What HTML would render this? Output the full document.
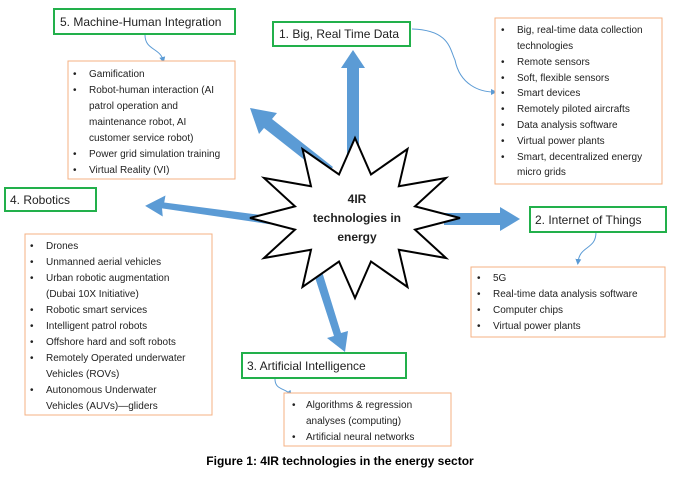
<!DOCTYPE html>
<html><head><meta charset="utf-8"><style>
body{margin:0;background:#fff;}
svg text{font-family:"Liberation Sans",sans-serif;}
</style></head><body>
<svg width="680" height="474" viewBox="0 0 680 474" xmlns="http://www.w3.org/2000/svg">
<defs><marker id="m" markerWidth="6" markerHeight="6" refX="3" refY="3" orient="auto"><path d="M0,0L6,3L0,6z" fill="#5b9bd5"/></marker></defs>
<g fill="none" stroke="#5b9bd5" stroke-width="1">
<path d="M145,35 C145,50 160,48 163,60" marker-end="url(#m)"/>
<path d="M412,29 C450,30 450,50 455,60 C460,85 480,92 494,92" marker-end="url(#m)"/>
<path d="M596,232 C596,250 580,245 578,262" marker-end="url(#m)"/>
<path d="M275,379 C275,390 285,388 290,394" marker-end="url(#m)"/>
</g>
<g fill="#5b9bd5">
<polygon points="347,200 347,68 341,68 353,50 365,68 359,68 359,200"/>
<polygon points="325,176 264,128 259,134 250,108 277,113 272,119 333,167"/>
<polygon points="270,222 162,210 163,218 145,208 165,197 164,204 271,214" transform="rotate(2 207 210)"/>
<polygon points="444,213 500,213 500,207 520,219 500,231 500,225 444,225"/>
<polygon points="312,268 334,336 327,338 345,352 348,331 341,333 320,265"/>
</g>
<polygon fill="#fff" stroke="#000" stroke-width="2" points="460,218 415,229.6 446,258 398.8,249.8 407.5,287 371,261.5 355,298 339,261.5 302.5,287 311,249.8 264,258 295,229.6 250,218 295,206.4 264,178 311,186.2 302.5,149 339,174.5 355,138 371,174.5 407.5,149 398.8,186.2 446,178 415,206.4"/>
<g font-size="12" font-weight="bold" text-anchor="middle" fill="#222">
<text x="357" y="203">4IR</text><text x="357" y="222">technologies in</text><text x="357" y="241">energy</text>
</g>
<g fill="#fff" stroke="#22b04b" stroke-width="2">
<rect x="54" y="9" width="181" height="25"/>
<rect x="273" y="22" width="137" height="24"/>
<rect x="5" y="188" width="91" height="23"/>
<rect x="530" y="207" width="136" height="25"/>
<rect x="242" y="353" width="164" height="25"/>
</g>
<g font-size="12" fill="#222">
<text x="60" y="26">5. Machine-Human Integration</text>
<text x="279" y="38">1. Big, Real Time Data</text>
<text x="10" y="204">4. Robotics</text>
<text x="535" y="224">2. Internet of Things</text>
<text x="247" y="370">3. Artificial Intelligence</text>
</g>
<g fill="#fff" stroke="#f4b183" stroke-width="1">
<rect x="68" y="61" width="167" height="118"/>
<rect x="495" y="18" width="167" height="166"/>
<rect x="25" y="234" width="187" height="181"/>
<rect x="471" y="267" width="194" height="70"/>
<rect x="284" y="393" width="167" height="53"/>
</g>
<g font-size="10" fill="#222">
<g transform="translate(73,0)">
<text x="0" y="77">•</text><text x="16" y="77">Gamification</text>
<text x="0" y="93">•</text><text x="16" y="93">Robot-human interaction (AI</text>
<text x="16" y="109">patrol operation and</text>
<text x="16" y="125">maintenance robot, AI</text>
<text x="16" y="141">customer service robot)</text>
<text x="0" y="157">•</text><text x="16" y="157">Power grid simulation training</text>
<text x="0" y="173">•</text><text x="16" y="173">Virtual Reality (VI)</text>
</g>
<g transform="translate(501,0)">
<text x="0" y="33">•</text><text x="16" y="33">Big, real-time data collection</text>
<text x="16" y="49">technologies</text>
<text x="0" y="65">•</text><text x="16" y="65">Remote sensors</text>
<text x="0" y="81">•</text><text x="16" y="81">Soft, flexible sensors</text>
<text x="0" y="96">•</text><text x="16" y="96">Smart devices</text>
<text x="0" y="112">•</text><text x="16" y="112">Remotely piloted aircrafts</text>
<text x="0" y="128">•</text><text x="16" y="128">Data analysis software</text>
<text x="0" y="144">•</text><text x="16" y="144">Virtual power plants</text>
<text x="0" y="160">•</text><text x="16" y="160">Smart, decentralized energy</text>
<text x="16" y="175">micro grids</text>
</g>
<g transform="translate(30,0)">
<text x="0" y="249">•</text><text x="16" y="249">Drones</text>
<text x="0" y="265">•</text><text x="16" y="265">Unmanned aerial vehicles</text>
<text x="0" y="281">•</text><text x="16" y="281">Urban robotic augmentation</text>
<text x="16" y="297">(Dubai 10X Initiative)</text>
<text x="0" y="313">•</text><text x="16" y="313">Robotic smart services</text>
<text x="0" y="329">•</text><text x="16" y="329">Intelligent patrol robots</text>
<text x="0" y="345">•</text><text x="16" y="345">Offshore hard and soft robots</text>
<text x="0" y="361">•</text><text x="16" y="361">Remotely Operated underwater</text>
<text x="16" y="377">Vehicles (ROVs)</text>
<text x="0" y="393">•</text><text x="16" y="393">Autonomous Underwater</text>
<text x="16" y="409">Vehicles (AUVs)—gliders</text>
</g>
<g transform="translate(477,0)">
<text x="0" y="281">•</text><text x="16" y="281">5G</text>
<text x="0" y="297">•</text><text x="16" y="297">Real-time data analysis software</text>
<text x="0" y="313">•</text><text x="16" y="313">Computer chips</text>
<text x="0" y="329">•</text><text x="16" y="329">Virtual power plants</text>
</g>
<g transform="translate(292,0)">
<text x="0" y="408">•</text><text x="14" y="408">Algorithms &amp; regression</text>
<text x="14" y="424">analyses (computing)</text>
<text x="0" y="440">•</text><text x="14" y="440">Artificial neural networks</text>
</g>
</g>
<text x="340" y="465" font-size="12" font-weight="bold" text-anchor="middle" fill="#000">Figure 1: 4IR technologies in the energy sector</text>
</svg>
</body></html>
